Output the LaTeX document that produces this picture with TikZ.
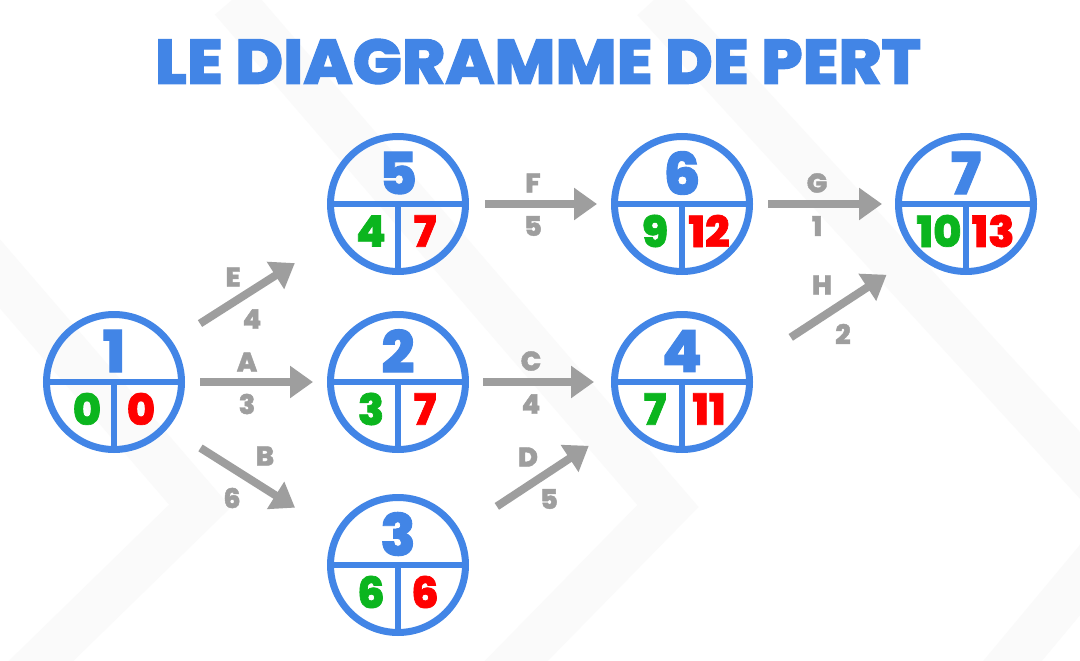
\documentclass[tikz,border=0pt]{standalone}
\usepackage{fontspec}
\usepackage{graphicx}
\setmainfont{Poppins}[BoldFont={* ExtraBold},BoldFeatures={FakeBold=1.6}]
\usetikzlibrary{arrows.meta}
\usetikzlibrary{positioning}
\definecolor{pertblue}{RGB}{66,133,230}
\definecolor{pertgreen}{RGB}{11,181,30}
\definecolor{pertred}{RGB}{255,0,0}
\definecolor{pertgrey}{RGB}{158,158,158}

\begin{document}
\begin{tikzpicture}[x=1pt,y=-1pt,node distance=284pt,
  pert/.style={draw=pertblue,circle,line width=7pt,minimum size=135pt,inner sep=0pt},
  split/.style={draw=pertblue,line width=6pt},
  topnum/.style={text=pertblue,font=\fontsize{58}{58}\selectfont\bfseries,inner sep=0pt},
  early/.style={text=pertgreen,font=\fontsize{43}{43}\selectfont\bfseries,inner sep=0pt},
  late/.style={text=pertred,font=\fontsize{43}{43}\selectfont\bfseries,inner sep=0pt},
  lbl/.style={text=pertgrey,font=\fontsize{27}{27}\selectfont\bfseries,inner sep=0pt},
  arr/.style={draw=pertgrey,line width=8pt,-{Triangle[length=23pt,width=31pt]}},
  bgband/.style={draw=black!2,line width=45pt,line join=miter}]
  \useasboundingbox (0,0) rectangle (1080,661);
  \fill[white] (0,0) rectangle (1080,661);
  \draw[bgband] (-236,0) -- (200,506) -- (1,700);
  \draw[bgband] (232,0) -- (668,506) -- (478,700);
  \draw[bgband] (654,0) -- (1130,520) -- (980,700);

  \node[text=pertblue,inner sep=0pt] (title) at (538,61.5)
    {\resizebox{766pt}{45pt}{\bfseries LE DIAGRAMME DE PERT}};

  \node[pert] (1) at (114,382) {};
  \node[pert,right of=1] (2) {};
  \node[pert,right of=2] (4) {};
  \node[pert] (5) at (398,204) {};
  \node[pert,right of=5] (6) {};
  \node[pert,right of=6] (7) {};
  \node[pert] (3) at (398,565) {};

  \draw[split] (1.west) -- (1.east) (1.center) -- (1.south);
  \draw[split] (2.west) -- (2.east) (2.center) -- (2.south);
  \draw[split] (3.west) -- (3.east) (3.center) -- (3.south);
  \draw[split] (4.west) -- (4.east) (4.center) -- (4.south);
  \draw[split] (5.west) -- (5.east) (5.center) -- (5.south);
  \draw[split] (6.west) -- (6.east) (6.center) -- (6.south);
  \draw[split] (7.west) -- (7.east) (7.center) -- (7.south);

  \node[topnum] (1t) at ([yshift=31pt]1.center) {1};
  \node[early] (1e) at ([xshift=-27pt,yshift=-27pt]1.center) {0};
  \node[late] (1l) at ([xshift=27pt,yshift=-27pt]1.center) {0};
  \node[topnum] (2t) at ([yshift=31pt]2.center) {2};
  \node[early] (2e) at ([xshift=-27pt,yshift=-27pt]2.center) {3};
  \node[late] (2l) at ([xshift=27pt,yshift=-27pt]2.center) {7};
  \node[topnum] (3t) at ([yshift=31pt]3.center) {3};
  \node[early] (3e) at ([xshift=-27pt,yshift=-27pt]3.center) {6};
  \node[late] (3l) at ([xshift=27pt,yshift=-27pt]3.center) {6};
  \node[topnum] (4t) at ([yshift=31pt]4.center) {4};
  \node[early] (4e) at ([xshift=-27pt,yshift=-27pt]4.center) {7};
  \node[late] (4l) at ([xshift=27pt,yshift=-27pt]4.center) {11};
  \node[topnum] (5t) at ([yshift=31pt]5.center) {5};
  \node[early] (5e) at ([xshift=-27pt,yshift=-27pt]5.center) {4};
  \node[late] (5l) at ([xshift=27pt,yshift=-27pt]5.center) {7};
  \node[topnum] (6t) at ([yshift=31pt]6.center) {6};
  \node[early] (6e) at ([xshift=-27pt,yshift=-27pt]6.center) {9};
  \node[late] (6l) at ([xshift=27pt,yshift=-27pt]6.center) {12};
  \node[topnum] (7t) at ([yshift=31pt]7.center) {7};
  \node[early] (7e) at ([xshift=-27pt,yshift=-27pt]7.center) {10};
  \node[late] (7l) at ([xshift=27pt,yshift=-27pt]7.center) {13};

  \draw[arr,shorten <=15pt,shorten >=14pt] (1) -- (2);
  \draw[arr,shorten <=14pt,shorten >=17pt] (2) -- (4);
  \draw[arr,shorten <=16pt,shorten >=14pt] (5) -- (6);
  \draw[arr,shorten <=15pt,shorten >=13pt] (6) -- (7);
  \draw[arr,shorten <=33pt,shorten >=48pt] (1.35.5) -- (5.208);
  \draw[arr,shorten <=38pt,shorten >=47pt] (1.320) -- (3.153);
  \draw[arr,shorten <=44pt,shorten >=42pt] (3.29) -- (4.215.5);
  \draw[arr,shorten <=48pt,shorten >=36pt] (4.15) -- (7.226);

  \node[lbl] (lA) at (247,362) {A};
  \node[lbl] (dA) at (247,404) {3};
  \node[lbl] (lB) at (265,456) {B};
  \node[lbl] (dB) at (232,498) {6};
  \node[lbl] (lC) at (531,361) {C};
  \node[lbl] (dC) at (531,404) {4};
  \node[lbl] (lD) at (528,457) {D};
  \node[lbl] (dD) at (549,499) {5};
  \node[lbl] (lE) at (233,277) {E};
  \node[lbl] (dE) at (252,319) {4};
  \node[lbl] (lF) at (533,183) {F};
  \node[lbl] (dF) at (533,226) {5};
  \node[lbl] (lG) at (817,183) {G};
  \node[lbl] (dG) at (817,226) {1};
  \node[lbl] (lH) at (822,285) {H};
  \node[lbl] (dH) at (843,334) {2};
\end{tikzpicture}
\end{document}
